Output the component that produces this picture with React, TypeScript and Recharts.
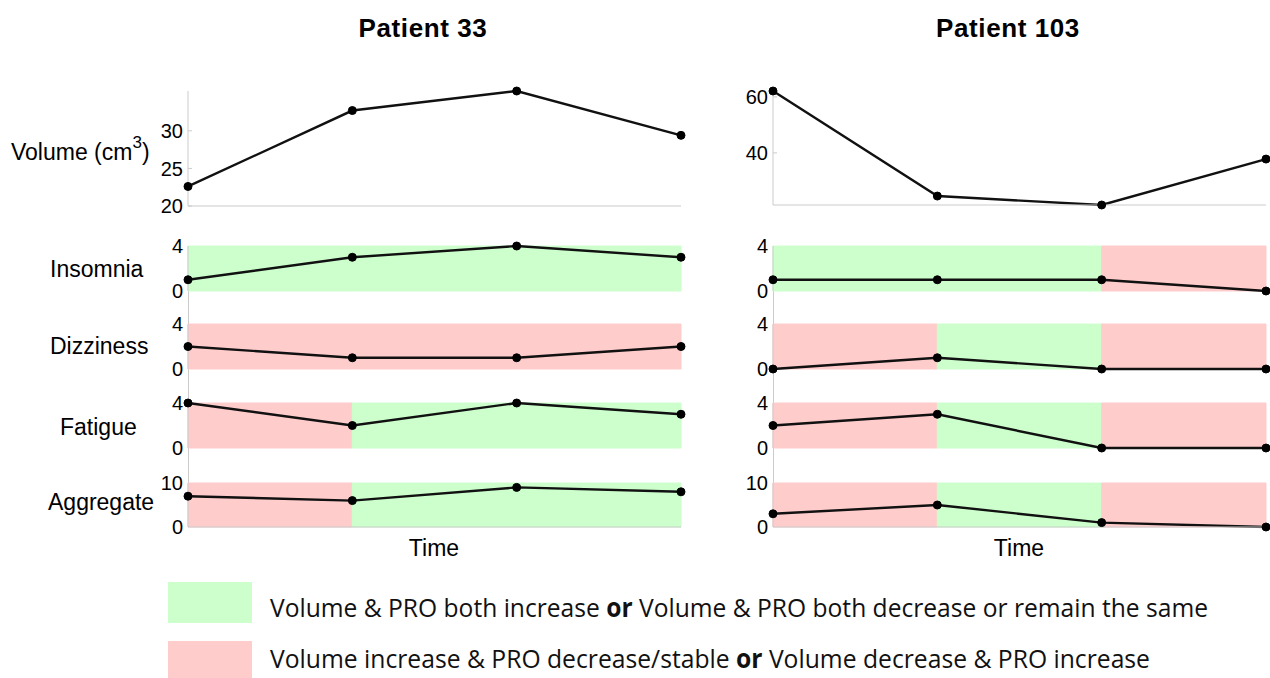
import React from "react";
import { LineChart, Line, XAxis, YAxis, ReferenceArea } from "recharts";

// four visits, evenly spaced on the time axis
const TIMES = [0, 1, 2, 3];

const VOLUME_33 = [22.6, 32.7, 35.3, 29.4];
const VOLUME_103 = [62.1, 24.6, 21.4, 37.8];

const INSOMNIA_33 = [1, 3, 4, 3];
const DIZZINESS_33 = [2, 1, 1, 2];
const FATIGUE_33 = [4, 2, 4, 3];
const AGGREGATE_33 = [7, 6, 9, 8];

const INSOMNIA_103 = [1, 1, 1, 0];
const DIZZINESS_103 = [0, 1, 0, 0];
const FATIGUE_103 = [2, 3, 0, 0];
const AGGREGATE_103 = [3, 5, 1, 0];

// g = volume & PRO move together, r = they move apart (one per interval)
type Shade = "g" | "r";
const SHADE_INSOMNIA_33: Shade[] = ["g", "g", "g"];
const SHADE_DIZZINESS_33: Shade[] = ["r", "r", "r"];
const SHADE_FATIGUE_33: Shade[] = ["r", "g", "g"];
const SHADE_AGGREGATE_33: Shade[] = ["r", "g", "g"];
const SHADE_INSOMNIA_103: Shade[] = ["g", "g", "r"];
const SHADE_DIZZINESS_103: Shade[] = ["r", "g", "r"];
const SHADE_FATIGUE_103: Shade[] = ["r", "g", "r"];
const SHADE_AGGREGATE_103: Shade[] = ["r", "g", "r"];

const PRO_LABELS = ["Insomnia", "Dizziness", "Fatigue", "Aggregate"];

const SHADE_COLORS: Record<Shade, string> = { g: "#ccffcc", r: "#ffcccc" };
const AXIS_GREY = "#cbcbcb";
const FONT = "'Liberation Sans', Arial, Helvetica, sans-serif";

const YW = 60;
const MT = 14;
const MR = 5;
const MB = 14;

function rows(values: number[]) {
  return TIMES.map((t, i) => ({ t, v: values[i] }));
}

type PanelProps = {
  x: number;
  y: number;
  w: number;
  h: number;
  values: number[];
  domain: [number, number];
  ticks: number[];
  shades?: Shade[];
  bottomAxis?: boolean;
  tickMarks?: boolean;
};

function Panel({ x, y, w, h, values, domain, ticks, shades, bottomAxis, tickMarks }: PanelProps) {
  const axisH = bottomAxis ? 1 : 0;
  return (
    <div style={{ position: "absolute", left: x - YW, top: y - MT }}>
      <LineChart
        width={YW + w + MR}
        height={MT + h + axisH + MB}
        data={rows(values)}
        margin={{ top: MT, right: MR, bottom: MB, left: 0 }}
      >
        {shades?.map((s, i) => (
          <ReferenceArea
            key={i}
            x1={TIMES[i]}
            x2={TIMES[i + 1]}
            y1={domain[0]}
            y2={domain[1]}
            fill={SHADE_COLORS[s]}
            fillOpacity={1}
            stroke={SHADE_COLORS[s]}
            strokeWidth={1}
          />
        ))}
        <XAxis
          type="number"
          dataKey="t"
          domain={[0, 3]}
          hide={!bottomAxis}
          tick={false}
          tickLine={false}
          axisLine={{ stroke: AXIS_GREY }}
          height={1}
        />
        <YAxis
          type="number"
          domain={domain}
          ticks={ticks}
          interval={0}
          width={YW}
          axisLine={{ stroke: AXIS_GREY }}
          tickLine={tickMarks ? { stroke: AXIS_GREY } : false}
          tickSize={tickMarks ? -4 : 0}
          tickMargin={tickMarks ? 9 : 5}
          tick={{ fill: "#000", fontSize: 20, fontFamily: FONT }}
        />
        <Line
          type="linear"
          dataKey="v"
          stroke="#111"
          strokeWidth={2.4}
          dot={{ r: 4, fill: "#000", stroke: "#000", strokeWidth: 1 }}
          isAnimationActive={false}
        />
      </LineChart>
    </div>
  );
}

const PANEL_TOPS = [246, 324, 403, 483];
const PANEL_HEIGHTS = [45, 45, 45, 44];

function Column({
  x,
  volume,
  volDomain,
  volTicks,
  volTop,
  volBottom,
  pros,
  shades,
}: {
  x: number;
  volume: number[];
  volDomain: [number, number];
  volTicks: number[];
  volTop: number;
  volBottom: number;
  pros: number[][];
  shades: Shade[][];
}) {
  const w = 493;
  return (
    <>
      <div
        style={{
          position: "absolute",
          left: x - 0.5,
          top: PANEL_TOPS[0],
          width: 1,
          height: PANEL_TOPS[3] + PANEL_HEIGHTS[3] - PANEL_TOPS[0],
          background: AXIS_GREY,
        }}
      />
      <Panel
        x={x}
        y={volTop}
        w={w}
        h={volBottom - volTop}
        values={volume}
        domain={volDomain}
        ticks={volTicks}
        bottomAxis
        tickMarks
      />
      {pros.map((vals, i) => (
        <Panel
          key={i}
          x={x}
          y={PANEL_TOPS[i]}
          w={w}
          h={PANEL_HEIGHTS[i]}
          values={vals}
          domain={i === 3 ? [0, 10] : [0, 4]}
          ticks={i === 3 ? [0, 10] : [0, 4]}
          shades={shades[i]}
          bottomAxis={i === 3}
        />
      ))}
    </>
  );
}

const textStyle: React.CSSProperties = {
  position: "absolute",
  fontFamily: FONT,
  color: "#000",
  whiteSpace: "nowrap",
  lineHeight: 1,
};

export default function App() {
  const labelCenters = [270, 347, 428, 503];
  const labelLefts = [50, 50, 60, 48];
  return (
    <div
      style={{
        position: "absolute",
        left: 0,
        top: 0,
        width: 1270,
        height: 678,
        overflow: "hidden",
        background: "#fff",
      }}
    >
      <div style={{ ...textStyle, left: 323, width: 200, textAlign: "center", top: 15, fontSize: 26, fontWeight: "bold", letterSpacing: 0.6 }}>
        Patient 33
      </div>
      <div style={{ ...textStyle, left: 908, width: 200, textAlign: "center", top: 15, fontSize: 26, fontWeight: "bold", letterSpacing: 0.6 }}>
        Patient 103
      </div>

      <div style={{ ...textStyle, left: 11, top: 141, fontSize: 23 }}>
        Volume (cm<sup style={{ fontSize: 17, verticalAlign: "top", position: "relative", top: -7 }}>3</sup>)
      </div>
      {PRO_LABELS.map((l, i) => (
        <div key={l} style={{ ...textStyle, left: labelLefts[i], top: labelCenters[i] - 12, fontSize: 23 }}>
          {l}
        </div>
      ))}

      <Column
        x={188}
        volume={VOLUME_33}
        volDomain={[20, 35.3]}
        volTicks={[20, 25, 30]}
        volTop={91}
        volBottom={206}
        pros={[INSOMNIA_33, DIZZINESS_33, FATIGUE_33, AGGREGATE_33]}
        shades={[SHADE_INSOMNIA_33, SHADE_DIZZINESS_33, SHADE_FATIGUE_33, SHADE_AGGREGATE_33]}
      />
      <Column
        x={773}
        volume={VOLUME_103}
        volDomain={[21.4, 62.1]}
        volTicks={[40, 60]}
        volTop={91}
        volBottom={205}
        pros={[INSOMNIA_103, DIZZINESS_103, FATIGUE_103, AGGREGATE_103]}
        shades={[SHADE_INSOMNIA_103, SHADE_DIZZINESS_103, SHADE_FATIGUE_103, SHADE_AGGREGATE_103]}
      />

      <div style={{ ...textStyle, left: 384, width: 100, textAlign: "center", top: 537, fontSize: 23 }}>Time</div>
      <div style={{ ...textStyle, left: 969, width: 100, textAlign: "center", top: 537, fontSize: 23 }}>Time</div>

      <div style={{ position: "absolute", left: 168, top: 582, width: 84, height: 41, background: SHADE_COLORS.g }} />
      <div style={{ position: "absolute", left: 168, top: 641, width: 84, height: 40, background: SHADE_COLORS.r }} />
      <svg style={{ position: "absolute", left: 0, top: 570 }} width={1270} height={108}>
        <text
          x={270}
          y={47}
          fontSize={26}
          fontFamily="'Open Sans', 'Noto Sans', sans-serif"
          fill="#111"
          textLength={938}
          lengthAdjust="spacingAndGlyphs"
        >
          Volume &amp; PRO both increase <tspan fontWeight="bold">or</tspan> Volume &amp; PRO both decrease or remain the same
        </text>
        <text
          x={270}
          y={98}
          fontSize={26}
          fontFamily="'Open Sans', 'Noto Sans', sans-serif"
          fill="#111"
          textLength={880}
          lengthAdjust="spacingAndGlyphs"
        >
          Volume increase &amp; PRO decrease/stable <tspan fontWeight="bold">or</tspan> Volume decrease &amp; PRO increase
        </text>
      </svg>
    </div>
  );
}
